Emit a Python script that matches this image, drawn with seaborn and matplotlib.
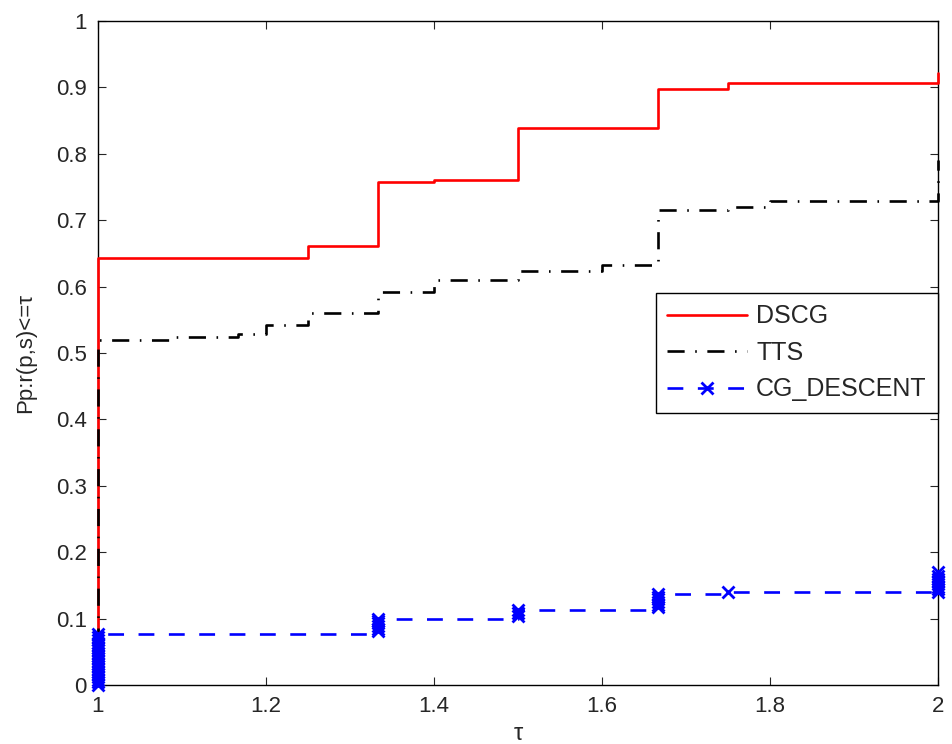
import numpy as np
import pandas as pd
import matplotlib
matplotlib.use('Agg')
import matplotlib.pyplot as plt
import seaborn as sns

# Performance profile data (tau, rho), step vertices
dscg_tau = [1.0, 1.0, 1.25, 1.3333, 1.4, 1.5, 1.6667, 1.75, 2.0, 2.0]
dscg_rho = [0.0, 0.643, 0.661, 0.757, 0.761, 0.839, 0.898, 0.906, 0.906, 0.921]

tts_tau = [1.0, 1.0, 1.091, 1.1667, 1.2, 1.25, 1.3333, 1.4, 1.5, 1.6,
           1.6667, 1.75, 1.8, 2.0, 2.0]
tts_rho = [0.0, 0.519, 0.524, 0.529, 0.542, 0.560, 0.592, 0.610, 0.624, 0.633,
           0.715, 0.720, 0.729, 0.729, 0.790]

cg_tau = [1.0, 1.0, 1.0, 1.0, 1.0, 1.0, 1.0, 1.0, 1.0, 1.0,
          1.0, 1.0, 1.0, 1.0, 1.0, 1.0, 1.0, 1.0, 1.0, 1.0,
          1.3333, 1.3333, 1.3333, 1.3333, 1.3333, 1.3333,
          1.5, 1.5, 1.5,
          1.6667, 1.6667, 1.6667, 1.6667, 1.6667, 1.6667,
          1.75,
          2.0, 2.0, 2.0, 2.0, 2.0, 2.0, 2.0, 2.0]
cg_rho = [0.0, 0.004, 0.008, 0.012, 0.016, 0.020, 0.024, 0.028, 0.032, 0.036,
          0.040, 0.044, 0.048, 0.052, 0.056, 0.060, 0.064, 0.068, 0.072, 0.077,
          0.081, 0.085, 0.089, 0.093, 0.097, 0.100,
          0.104, 0.108, 0.113,
          0.117, 0.121, 0.125, 0.129, 0.133, 0.137,
          0.1405,
          0.1405, 0.144, 0.148, 0.152, 0.156, 0.160, 0.164, 0.170]

labels = ['DSCG', 'TTS', 'CG_DESCENT']
x_ticks = [1, 1.2, 1.4, 1.6, 1.8, 2]
x_ticklabels = ['1', '1.2', '1.4', '1.6', '1.8', '2']
y_ticks = [0, 0.1, 0.2, 0.3, 0.4, 0.5, 0.6, 0.7, 0.8, 0.9, 1]
y_ticklabels = ['0', '0.1', '0.2', '0.3', '0.4', '0.5', '0.6', '0.7', '0.8', '0.9', '1']

sns.set_style('ticks')
plt.rcParams['font.family'] = ['Liberation Sans', 'DejaVu Sans']

fig = plt.figure(figsize=(9.53, 7.44), dpi=100)
ax = fig.add_axes([0.1028, 0.0793, 0.8815, 0.8925])

sns.lineplot(x=dscg_tau, y=dscg_rho, ax=ax, estimator=None, sort=False,
             drawstyle='steps-post', color='#ff0000', linewidth=1.9,
             linestyle='-', label=labels[0])
sns.lineplot(x=tts_tau, y=tts_rho, ax=ax, estimator=None, sort=False,
             drawstyle='steps-post', color='black', linewidth=1.9,
             linestyle=(0, (6.5, 4, 0.6, 4)), label=labels[1])
sns.lineplot(x=cg_tau, y=cg_rho, ax=ax, estimator=None, sort=False,
             drawstyle='steps-post', color='#0000ff', linewidth=1.9,
             linestyle=(0, (6, 5.5)), marker='x', markersize=8,
             markeredgewidth=2, markeredgecolor='#0000ff', label=labels[2])

for line in ax.get_lines():
    line.set_clip_on(False)

ax.set_xlim(1, 2)
ax.set_ylim(0, 1)
ax.set_xticks(x_ticks)
ax.set_xticklabels(x_ticklabels)
ax.set_yticks(y_ticks)
ax.set_yticklabels(y_ticklabels)
ax.tick_params(direction='in', length=6, width=0.8, labelsize=16,
               top=True, right=True, pad=8)
for sp in ax.spines.values():
    sp.set_visible(True)
    sp.set_linewidth(1.0)
    sp.set_color('black')
    sp.set_zorder(1)

ax.set_xlabel('τ', fontsize=17, labelpad=4)
ax.set_ylabel('Pp:r(p,s)<=τ', fontsize=16, labelpad=14)

leg = ax.legend(loc='center right', bbox_to_anchor=(1.0, 0.5), borderaxespad=0,
                fontsize=18, frameon=True, fancybox=False, framealpha=1,
                edgecolor='black', handlelength=3.2, handletextpad=0.35,
                labelspacing=0.5, borderpad=0.45)
leg.get_frame().set_linewidth(1.0)
leg.set_zorder(5)

fig.savefig('out.png', dpi=100)
